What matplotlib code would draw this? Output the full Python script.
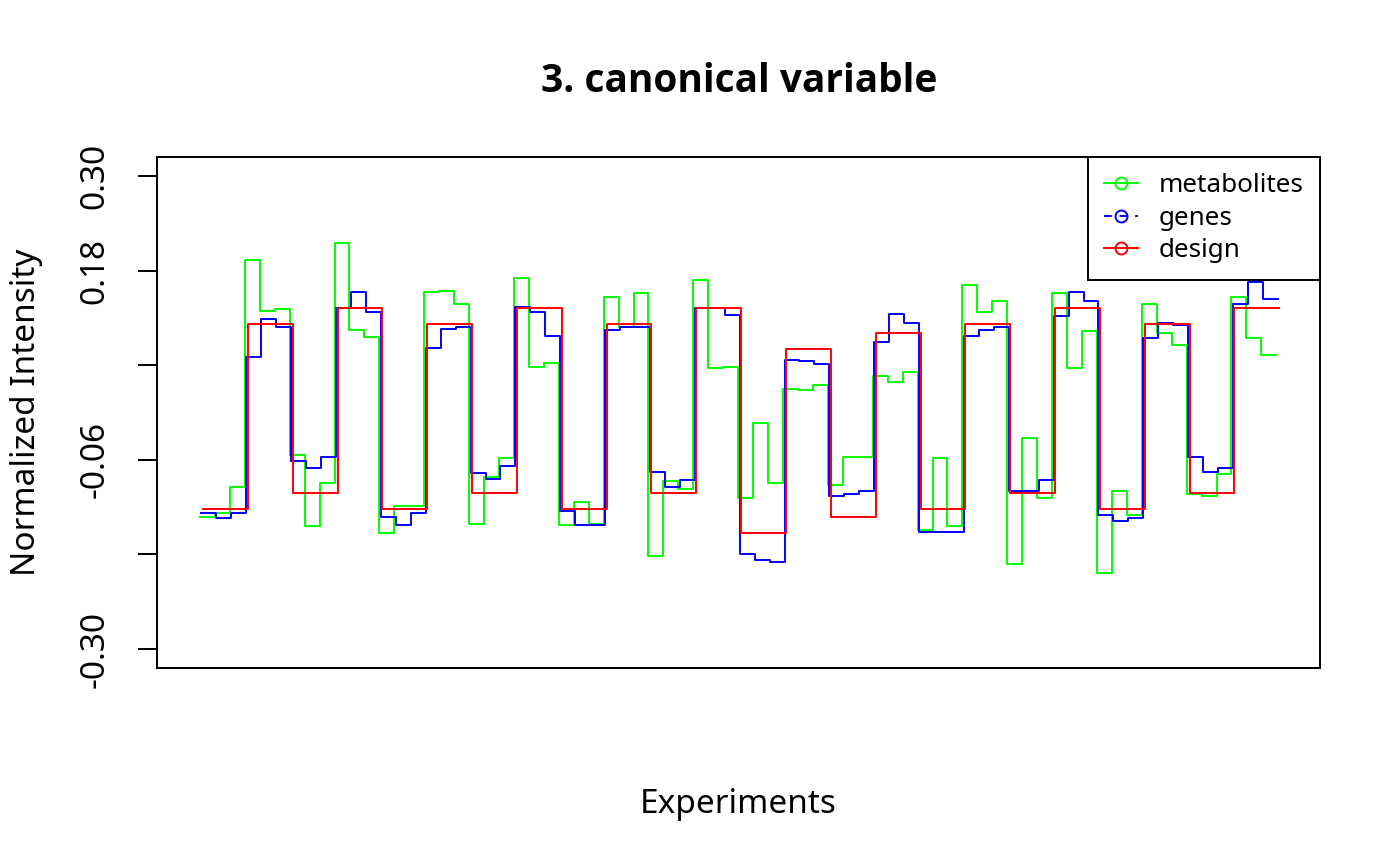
import numpy as np
import matplotlib
matplotlib.use("Agg")
import matplotlib.pyplot as plt
from matplotlib.lines import Line2D

plt.rcParams['font.family'] = ['Noto Sans', 'DejaVu Sans']

# ---- data ----
metabolites = [-0.133, -0.127, -0.095, 0.194, 0.129, 0.131, -0.054, -0.144, -0.090,
               0.215, 0.104, 0.096, -0.153, -0.119, -0.118, 0.153, 0.154, 0.137,
               -0.142, -0.082, -0.058, 0.171, 0.058, 0.063, -0.143, -0.114, -0.142,
               0.146, 0.108, 0.152, -0.182, -0.087, -0.097, 0.168, 0.056, 0.058,
               -0.108, -0.013, -0.089, 0.030, 0.028, 0.035, -0.092, -0.057, -0.057,
               0.046, 0.039, 0.051, -0.149, -0.058, -0.144, 0.162, 0.127, 0.141,
               -0.192, -0.032, -0.108, 0.152, 0.057, 0.103, -0.203, -0.099, -0.130,
               0.138, 0.101, 0.086, -0.103, -0.106, -0.078, 0.146, 0.094, 0.073]

genes = [-0.128, -0.134, -0.128, 0.070, 0.118, 0.109, -0.061, -0.070, -0.056,
         0.133, 0.153, 0.127, -0.132, -0.143, -0.128, 0.082, 0.106, 0.109,
         -0.077, -0.084, -0.068, 0.134, 0.127, 0.097, -0.125, -0.143, -0.143,
         0.105, 0.109, 0.108, -0.076, -0.094, -0.086, 0.133, 0.133, 0.124,
         -0.180, -0.187, -0.190, 0.066, 0.065, 0.062, -0.106, -0.103, -0.099,
         0.090, 0.125, 0.113, -0.151, -0.151, -0.152, 0.097, 0.104, 0.109,
         -0.099, -0.100, -0.086, 0.122, 0.153, 0.141, -0.130, -0.138, -0.134,
         0.094, 0.114, 0.111, -0.056, -0.076, -0.070, 0.138, 0.166, 0.144]

# design level for each block of three experiments
design_blocks = [-0.122, 0.112, -0.102, 0.132, -0.122, 0.112, -0.102, 0.132,
                 -0.122, 0.112, -0.102, 0.132, -0.153, 0.081, -0.133, 0.101,
                 -0.122, 0.112, -0.102, 0.132, -0.122, 0.112, -0.102, 0.132]
design = list(np.repeat(design_blocks, 3))

series_names = ["metabolites", "genes", "design"]
series_colors = ["#00FF00", "#0000FF", "#FF0000"]
y_ticks = [0.30, 0.18, 0.06, -0.06, -0.18, -0.30]
y_tick_labels = ["0.30", "0.18", "", "-0.06", "", "-0.30"]

# ---- figure ----
W, H = 1400, 865
fig = plt.figure(figsize=(7, 4.325), dpi=200)
ax = fig.add_axes([157 / W, (H - 668) / H, 1163 / W, 511 / H])

n = len(metabolites)
x = np.arange(1, n + 2)
offsets = [0.0, 0.1, 0.2]
lw = 0.7
for vals, col, off in zip([metabolites, genes, design], series_colors, offsets):
    yy = np.append(vals, vals[-1])
    ax.step(x + off, yy, where='post', color=col, lw=lw)

ax.set_xlim(1 - 2.876, 1 + 74.92)
ax.set_ylim(-0.324, 0.324)
ax.set_xticks([])
ax.set_yticks(y_ticks)
ax.set_yticklabels(y_tick_labels, rotation=90, va='center', fontsize=12)
ax.tick_params(axis='y', length=6.8, width=0.7, pad=9.5, color='black')
for s in ax.spines.values():
    s.set_linewidth(0.7)
    s.set_color('black')

fig.text(739 / W, 1 - 92 / H, "3. canonical variable", ha='center', va='baseline',
         fontsize=14.0, fontweight='bold', family=['Open Sans', 'DejaVu Sans'])
fig.text(738.5 / W, 1 - 813 / H, "Experiments", ha='center', va='baseline', fontsize=12)
fig.text(27 / W, 1 - 412.5 / H, "Normalized Intensity", ha='center', va='center',
         rotation=90, fontsize=12)

handles = [
    Line2D([], [], color=series_colors[0], lw=lw, marker='o', mfc='none', ms=4.3, mew=lw),
    Line2D([], [], color=series_colors[1], lw=lw, ls=(0, (4, 4)), marker='o', mfc='none', ms=4.3, mew=lw),
    Line2D([], [], color=series_colors[2], lw=lw, marker='o', mfc='none', ms=4.3, mew=lw),
]
leg = ax.legend(handles, series_names, loc='upper right', bbox_to_anchor=(1, 1),
                borderaxespad=0, fancybox=False, edgecolor='black', framealpha=1,
                fontsize=9.4, borderpad=0.62, labelspacing=0.29,
                handlelength=1.3, handletextpad=0.8)
leg.get_frame().set_linewidth(0.7)

fig.savefig("out.png", dpi=200)
